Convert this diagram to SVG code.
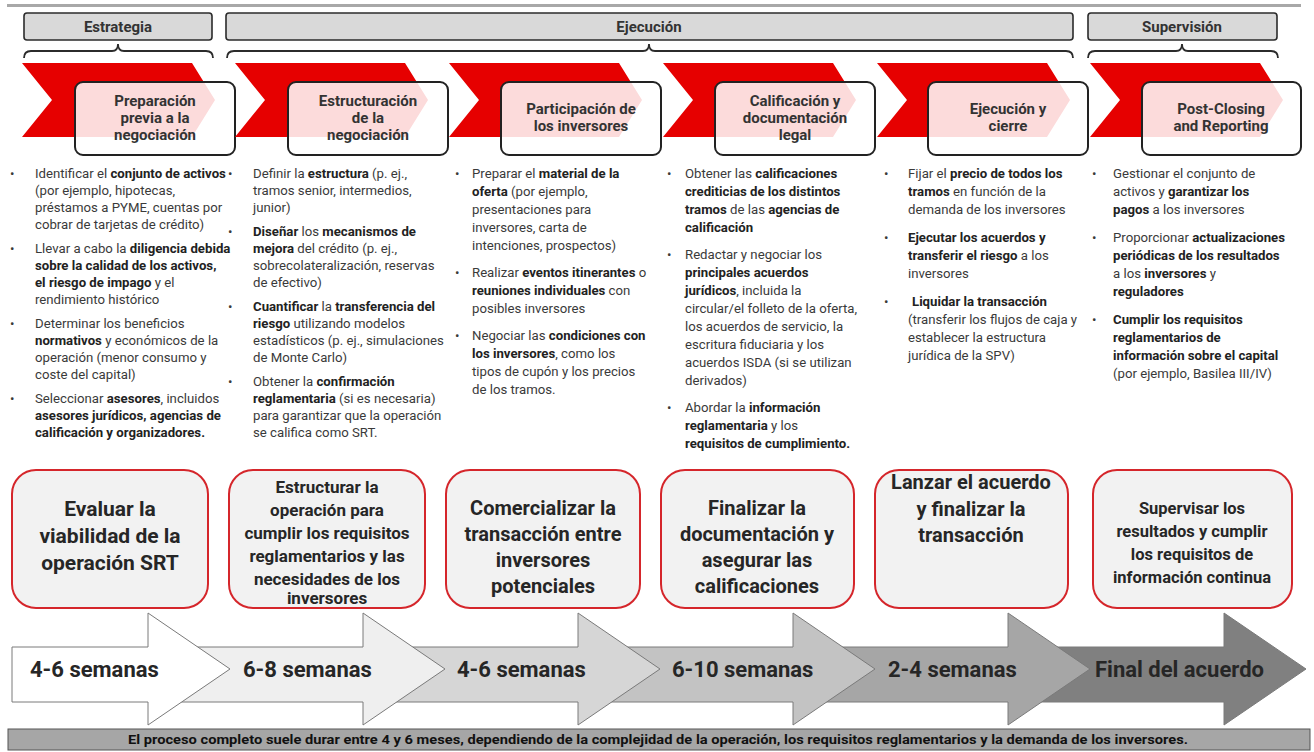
<svg xmlns="http://www.w3.org/2000/svg" width="1314" height="752" viewBox="0 0 1314 752">
<style>
.hdr{fill:#d9d9d9;stroke:#2b2b2b;stroke-width:1.6}
.hdrt{font-family:Roboto,"Noto Sans",sans-serif;font-weight:700;font-size:15px;fill:#333;text-anchor:middle}
.brace{fill:none;stroke:#2b2b2b;stroke-width:1.8}
.red{fill:#e60000}
.wbox{fill:#fff;fill-opacity:0.86;stroke:#222;stroke-width:2}
.lbl{font-family:Roboto,"Noto Sans",sans-serif;font-weight:700;font-size:15px;fill:#333;text-anchor:middle}
.tx{font-family:Roboto,"Noto Sans",sans-serif;font-size:13.2px;fill:#3a3a3a}
.b{font-weight:700;fill:#222}
.bb{fill:#f2f2f2;stroke:#d5262b;stroke-width:2}
.bt{font-family:Roboto,"Noto Sans",sans-serif;font-weight:700;fill:#262626;text-anchor:middle}
.arr{stroke:#7a7a7a;stroke-width:1}
.at{font-family:Roboto,"Noto Sans",sans-serif;font-weight:700;font-size:22px;fill:#262626}
</style>

<rect x="7" y="4" width="1294" height="3" fill="#a8a8a8"/>

<!-- Phase headers -->
<g id="hdr-estrategia">
<rect class="hdr" x="24" y="13" width="188" height="27" rx="3"/>
<text class="hdrt" x="118" y="32">Estrategia</text>
</g>
<g id="hdr-ejecucion">
<rect class="hdr" x="226" y="13" width="847" height="27" rx="3"/>
<text class="hdrt" x="649" y="32">Ejecución</text>
</g>
<g id="hdr-supervision">
<rect class="hdr" x="1088" y="13" width="189" height="27" rx="3"/>
<text class="hdrt" x="1182" y="32">Supervisión</text>
</g>

<g id="connectors">
<path class="brace" d="M24,58 Q24,51 31,51 L112,51 Q118,51 118,44 Q118,51 124,51 L206,51 Q213,51 213,58"/>
<path class="brace" d="M227,58 Q227,51 234,51 L643,51 Q649,51 649,44 Q649,51 655,51 L1066,51 Q1073,51 1073,58"/>
<path class="brace" d="M1088,58 Q1088,51 1095,51 L1176,51 Q1182,51 1182,44 Q1182,51 1188,51 L1271,51 Q1278,51 1278,58"/>
</g>

<!-- Chevron steps -->
<g id="step1">
<polygon class="red" points="22,63 192,63 215,100 192,137 22,137 52,100"/>
<rect class="wbox" x="75" y="82" width="160" height="73" rx="8"/>
<text class="lbl" x="155" y="106">Preparación</text>
<text class="lbl" x="155" y="123">previa a la</text>
<text class="lbl" x="155" y="140">negociación</text>
</g>
<g id="step2">
<polygon class="red" points="235,63 405,63 428,100 405,137 235,137 265,100"/>
<rect class="wbox" x="288" y="82" width="160" height="73" rx="8"/>
<text class="lbl" x="368" y="106">Estructuración</text>
<text class="lbl" x="368" y="123">de la</text>
<text class="lbl" x="368" y="140">negociación</text>
</g>
<g id="step3">
<polygon class="red" points="449,63 619,63 642,100 619,137 449,137 479,100"/>
<rect class="wbox" x="501" y="82" width="160" height="73" rx="8"/>
<text class="lbl" x="581" y="114">Participación de</text>
<text class="lbl" x="581" y="131">los inversores</text>
</g>
<g id="step4">
<polygon class="red" points="663,63 833,63 856,100 833,137 663,137 693,100"/>
<rect class="wbox" x="715" y="82" width="160" height="73" rx="8"/>
<text class="lbl" x="795" y="106">Calificación y</text>
<text class="lbl" x="795" y="123">documentación</text>
<text class="lbl" x="795" y="140">legal</text>
</g>
<g id="step5">
<polygon class="red" points="877,63 1047,63 1070,100 1047,137 877,137 907,100"/>
<rect class="wbox" x="928" y="82" width="160" height="73" rx="8"/>
<text class="lbl" x="1008" y="114">Ejecución y</text>
<text class="lbl" x="1008" y="131">cierre</text>
</g>
<g id="step6">
<polygon class="red" points="1090,63 1260,63 1283,100 1260,137 1090,137 1120,100"/>
<rect class="wbox" x="1142" y="82" width="159" height="73" rx="8"/>
<text class="lbl" x="1221" y="114">Post-Closing</text>
<text class="lbl" x="1221" y="131">and Reporting</text>
</g>

<!-- Bullet columns -->
<g id="col1" class="tx">
<text x="10" y="178">•</text>
<text x="35" y="178">Identificar el <tspan class="b">conjunto de activos</tspan></text>
<text x="35" y="195">(por ejemplo, hipotecas,</text>
<text x="35" y="212">préstamos a PYME, cuentas por</text>
<text x="35" y="229">cobrar de tarjetas de crédito)</text>
<text x="10" y="253">•</text>
<text x="35" y="253">Llevar a cabo la <tspan class="b">diligencia debida</tspan></text>
<text x="35" y="270" class="b">sobre la calidad de los activos,</text>
<text x="35" y="287"><tspan class="b">el riesgo de impago</tspan> y el</text>
<text x="35" y="304">rendimiento histórico</text>
<text x="10" y="328">•</text>
<text x="35" y="328">Determinar los beneficios</text>
<text x="35" y="345"><tspan class="b">normativos</tspan> y económicos de la</text>
<text x="35" y="362">operación (menor consumo y</text>
<text x="35" y="379">coste del capital)</text>
<text x="10" y="403">•</text>
<text x="35" y="403">Seleccionar <tspan class="b">asesores</tspan>, incluidos</text>
<text x="35" y="420" class="b">asesores jurídicos, agencias de</text>
<text x="35" y="437" class="b">calificación y organizadores.</text>
</g>
<g id="col2" class="tx">
<text x="228" y="178">•</text>
<text x="253" y="178">Definir la <tspan class="b">estructura</tspan> (p. ej.,</text>
<text x="253" y="195">tramos senior, intermedios,</text>
<text x="253" y="212">junior)</text>
<text x="228" y="236">•</text>
<text x="253" y="236"><tspan class="b">Diseñar</tspan> los <tspan class="b">mecanismos de</tspan></text>
<text x="253" y="253"><tspan class="b">mejora</tspan> del crédito (p. ej.,</text>
<text x="253" y="270">sobrecolateralización, reservas</text>
<text x="253" y="287">de efectivo)</text>
<text x="228" y="311">•</text>
<text x="253" y="311"><tspan class="b">Cuantificar</tspan> la <tspan class="b">transferencia del</tspan></text>
<text x="253" y="328"><tspan class="b">riesgo</tspan> utilizando modelos</text>
<text x="253" y="345">estadísticos (p. ej., simulaciones</text>
<text x="253" y="362">de Monte Carlo)</text>
<text x="228" y="386">•</text>
<text x="253" y="386">Obtener la <tspan class="b">confirmación</tspan></text>
<text x="253" y="403"><tspan class="b">reglamentaria</tspan> (si es necesaria)</text>
<text x="253" y="420">para garantizar que la operación</text>
<text x="253" y="437">se califica como SRT.</text>
</g>
<g id="col3" class="tx">
<text x="455" y="178">•</text>
<text x="472" y="178">Preparar el <tspan class="b">material de la</tspan></text>
<text x="472" y="196"><tspan class="b">oferta</tspan> (por ejemplo,</text>
<text x="472" y="214">presentaciones para</text>
<text x="472" y="232">inversores, carta de</text>
<text x="472" y="250">intenciones, prospectos)</text>
<text x="455" y="277">•</text>
<text x="472" y="277">Realizar <tspan class="b">eventos itinerantes</tspan> o</text>
<text x="472" y="295"><tspan class="b">reuniones individuales</tspan> con</text>
<text x="472" y="313">posibles inversores</text>
<text x="455" y="340">•</text>
<text x="472" y="340">Negociar las <tspan class="b">condiciones con</tspan></text>
<text x="472" y="358"><tspan class="b">los inversores</tspan>, como los</text>
<text x="472" y="376">tipos de cupón y los precios</text>
<text x="472" y="394">de los tramos.</text>
</g>
<g id="col4" class="tx">
<text x="667" y="178">•</text>
<text x="685" y="178">Obtener las <tspan class="b">calificaciones</tspan></text>
<text x="685" y="196" class="b">crediticias de los distintos</text>
<text x="685" y="214"><tspan class="b">tramos</tspan> de las <tspan class="b">agencias de</tspan></text>
<text x="685" y="232" class="b">calificación</text>
<text x="667" y="259">•</text>
<text x="685" y="259">Redactar y negociar los</text>
<text x="685" y="277" class="b">principales acuerdos</text>
<text x="685" y="295"><tspan class="b">jurídicos</tspan>, incluida la</text>
<text x="685" y="313">circular/el folleto de la oferta,</text>
<text x="685" y="331">los acuerdos de servicio, la</text>
<text x="685" y="349">escritura fiduciaria y los</text>
<text x="685" y="367">acuerdos ISDA (si se utilizan</text>
<text x="685" y="385">derivados)</text>
<text x="667" y="412">•</text>
<text x="685" y="412">Abordar la <tspan class="b">información</tspan></text>
<text x="685" y="430"><tspan class="b">reglamentaria</tspan> y los</text>
<text x="685" y="448" class="b">requisitos de cumplimiento.</text>
</g>
<g id="col5" class="tx">
<text x="884" y="178">•</text>
<text x="908" y="178">Fijar el <tspan class="b">precio de todos los</tspan></text>
<text x="908" y="196"><tspan class="b">tramos</tspan> en función de la</text>
<text x="908" y="214">demanda de los inversores</text>
<text x="884" y="242">•</text>
<text x="908" y="242" class="b">Ejecutar los acuerdos y</text>
<text x="908" y="260"><tspan class="b">transferir el riesgo</tspan> a los</text>
<text x="908" y="278">inversores</text>
<text x="884" y="306">•</text>
<text x="912" y="306" class="b">Liquidar la transacción</text>
<text x="908" y="324">(transferir los flujos de caja y</text>
<text x="908" y="342">establecer la estructura</text>
<text x="908" y="360">jurídica de la SPV)</text>
</g>
<g id="col6" class="tx">
<text x="1092" y="178">•</text>
<text x="1113" y="178">Gestionar el conjunto de</text>
<text x="1113" y="196">activos y <tspan class="b">garantizar los</tspan></text>
<text x="1113" y="214"><tspan class="b">pagos</tspan> a los inversores</text>
<text x="1092" y="242">•</text>
<text x="1113" y="242">Proporcionar <tspan class="b">actualizaciones</tspan></text>
<text x="1113" y="260" class="b">periódicas de los resultados</text>
<text x="1113" y="278">a los <tspan class="b">inversores</tspan> y</text>
<text x="1113" y="296" class="b">reguladores</text>
<text x="1092" y="324">•</text>
<text x="1113" y="324" class="b">Cumplir los requisitos</text>
<text x="1113" y="342" class="b">reglamentarios de</text>
<text x="1113" y="360" class="b">información sobre el capital</text>
<text x="1113" y="378">(por ejemplo, Basilea III/IV)</text>
</g>

<!-- Timeline arrows (drawn last-to-first so earlier heads overlap) -->
<g id="arrow6">
<polygon class="arr" fill="#808080" points="1008,647 1224,647 1224,613 1306,669 1224,725 1224,702 1008,702"/>
<text class="at" x="1095" y="677">Final del acuerdo</text>
</g>
<g id="arrow5">
<polygon class="arr" fill="#a6a6a6" points="793,647 1008,647 1008,613 1090,669 1008,725 1008,702 793,702"/>
<text class="at" x="888" y="677">2-4 semanas</text>
</g>
<g id="arrow4">
<polygon class="arr" fill="#c3c3c3" points="578,647 793,647 793,613 875,669 793,725 793,702 578,702"/>
<text class="at" x="672" y="677">6-10 semanas</text>
</g>
<g id="arrow3">
<polygon class="arr" fill="#d6d6d6" points="363,647 578,647 578,613 660,669 578,725 578,702 363,702"/>
<text class="at" x="457" y="677">4-6 semanas</text>
</g>
<g id="arrow2">
<polygon class="arr" fill="#efefef" points="148,647 363,647 363,613 445,669 363,725 363,702 148,702"/>
<text class="at" x="243" y="677">6-8 semanas</text>
</g>
<g id="arrow1">
<polygon class="arr" fill="#ffffff" points="12,647 148,647 148,613 230,669 148,725 148,702 12,702"/>
<text class="at" x="30" y="677">4-6 semanas</text>
</g>

<!-- Outcome boxes -->
<g id="out1">
<rect class="bb" x="12" y="470" width="196" height="138" rx="24"/>
<text class="bt" font-size="21" x="110" y="516">Evaluar la</text>
<text class="bt" font-size="21" x="110" y="543">viabilidad de la</text>
<text class="bt" font-size="21" x="110" y="570">operación SRT</text>
</g>
<g id="out2">
<rect class="bb" x="229" y="470" width="196" height="138" rx="24"/>
<text class="bt" font-size="17" x="327" y="493">Estructurar la</text>
<text class="bt" font-size="17" x="327" y="516">operación para</text>
<text class="bt" font-size="17" x="327" y="539">cumplir los requisitos</text>
<text class="bt" font-size="17" x="327" y="562">reglamentarios y las</text>
<text class="bt" font-size="17" x="327" y="585">necesidades de los</text>
<text class="bt" font-size="17" x="327" y="604">inversores</text>
</g>
<g id="out3">
<rect class="bb" x="446" y="470" width="194" height="138" rx="24"/>
<text class="bt" font-size="20" x="543" y="515">Comercializar la</text>
<text class="bt" font-size="20" x="543" y="541">transacción entre</text>
<text class="bt" font-size="20" x="543" y="567">inversores</text>
<text class="bt" font-size="20" x="543" y="593">potenciales</text>
</g>
<g id="out4">
<rect class="bb" x="661" y="470" width="193" height="138" rx="24"/>
<text class="bt" font-size="20" x="757" y="515">Finalizar la</text>
<text class="bt" font-size="20" x="757" y="541">documentación y</text>
<text class="bt" font-size="20" x="757" y="567">asegurar las</text>
<text class="bt" font-size="20" x="757" y="593">calificaciones</text>
</g>
<g id="out5">
<rect class="bb" x="875" y="470" width="193" height="138" rx="24"/>
<text class="bt" font-size="20" x="971" y="489">Lanzar el acuerdo</text>
<text class="bt" font-size="20" x="971" y="516">y finalizar la</text>
<text class="bt" font-size="20" x="971" y="542">transacción</text>
</g>
<g id="out6">
<rect class="bb" x="1093" y="470" width="199" height="138" rx="24"/>
<text class="bt" font-size="16.5" x="1192" y="514">Supervisar los</text>
<text class="bt" font-size="16.5" x="1192" y="537">resultados y cumplir</text>
<text class="bt" font-size="16.5" x="1192" y="560">los requisitos de</text>
<text class="bt" font-size="16.5" x="1192" y="583">información continua</text>
</g>

<g id="footer">
<rect x="8" y="729" width="1302" height="21" fill="#a6a6a6" stroke="#555" stroke-width="1"/>
<text x="658" y="744" text-anchor="middle" textLength="1060" lengthAdjust="spacingAndGlyphs" font-family="Roboto,'Noto Sans',sans-serif" font-weight="700" font-size="13" fill="#111">El proceso completo suele durar entre 4 y 6 meses, dependiendo de la complejidad de la operación, los requisitos reglamentarios y la demanda de los inversores.</text>
</g>
</svg>
